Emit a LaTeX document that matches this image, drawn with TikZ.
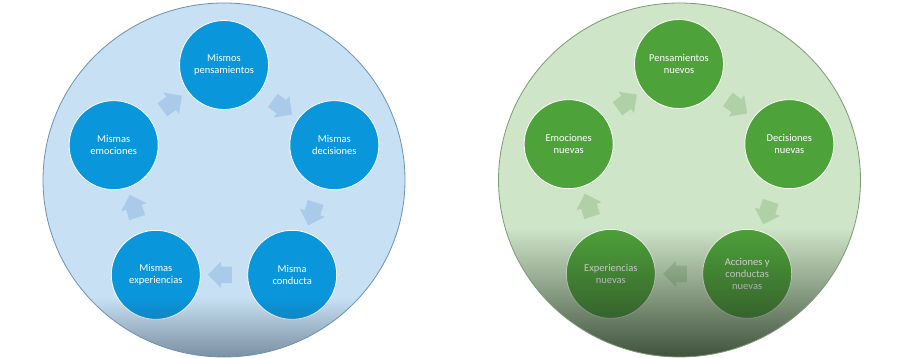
\documentclass[tikz,border=0pt]{standalone}
\usepackage{fontspec}
\setmainfont{Carlito}
\usetikzlibrary{calc,fadings,shapes.arrows}
\definecolor{bluebg}{RGB}{199,224,243}
\definecolor{bluedot}{RGB}{10,150,219}
\definecolor{bluearr}{RGB}{169,203,233}
\definecolor{blueline}{RGB}{105,145,182}
\definecolor{bluedark}{RGB}{46,63,79}
\definecolor{greenbg}{RGB}{207,229,200}
\definecolor{greendot}{RGB}{78,162,58}
\definecolor{greenarr}{RGB}{176,208,168}
\definecolor{greenline}{RGB}{125,155,115}
\definecolor{greendark}{RGB}{38,56,36}

\begin{document}
\begin{tikzpicture}[x=1pt,y=-1pt,
  dot/.style={circle,draw=white,line width=0.8pt,minimum size=89pt,inner sep=0pt,
    text=white,align=center,font=\fontsize{10.5}{12}\selectfont},
  blockarr/.style={single arrow,draw=none,inner xsep=0pt,inner ysep=8pt,
    minimum height=24pt,single arrow head extend=5pt}]
\useasboundingbox (0,0) rectangle (900,358);
\fill[white] (0,0) rectangle (900,358);
% old habits
\fill[bluebg] (224,180) ellipse [x radius=181,y radius=177];
\foreach \n/\ang/\txt in {1/-90/Mismos\\pensamientos,2/-18/Mismas\\decisiones,
    3/54/Misma\\conducta,4/126/Mismas\\experiencias,5/198/Mismas\\emociones}{
  \node[dot,fill=bluedot] (b\n) at ($(224,181)+(\ang:116)$) {\txt};
}
\foreach \a/\b in {b1/b2,b2/b3,b3/b4,b4/b5,b5/b1}{
  \path let \p1=($(\b)-(\a)$), \n1={atan2(\y1,\x1)} in
    node[blockarr,fill=bluearr,rotate=\n1] (arr-\a) at ($(\a)!0.5!(\b)$) {};
}
\begin{scope}
  \clip (224,180) ellipse [x radius=181,y radius=177];
  \fill[bluedark,fill opacity=0.5,path fading=north] (40,298) rectangle (410,358);
\end{scope}
\draw[blueline,line width=0.8pt] (224,180) ellipse [x radius=181,y radius=177];
% new habits
\fill[greenbg] (679.5,180) ellipse [x radius=181,y radius=177];
\foreach \n/\ang/\txt in {1/-90/Pensamientos\\nuevos,2/-18/Decisiones\\nuevas,
    3/54/Acciones y\\conductas\\nuevas,4/126/Experiencias\\nuevas,5/198/Emociones\\nuevas}{
  \node[dot,fill=greendot] (g\n) at ($(679,180)+(\ang:116)$) {\txt};
}
\foreach \a/\b in {g1/g2,g2/g3,g3/g4,g4/g5,g5/g1}{
  \path let \p1=($(\b)-(\a)$), \n1={atan2(\y1,\x1)} in
    node[blockarr,fill=greenarr,rotate=\n1] (arr-\a) at ($(\a)!0.5!(\b)$) {};
}
\begin{scope}
  \clip (679.5,180) ellipse [x radius=181,y radius=177];
  \fill[greendark,fill opacity=0.85,path fading=north] (495,228) rectangle (865,358);
\end{scope}
\draw[greenline,line width=0.8pt] (679.5,180) ellipse [x radius=181,y radius=177];
\end{tikzpicture}
\end{document}
